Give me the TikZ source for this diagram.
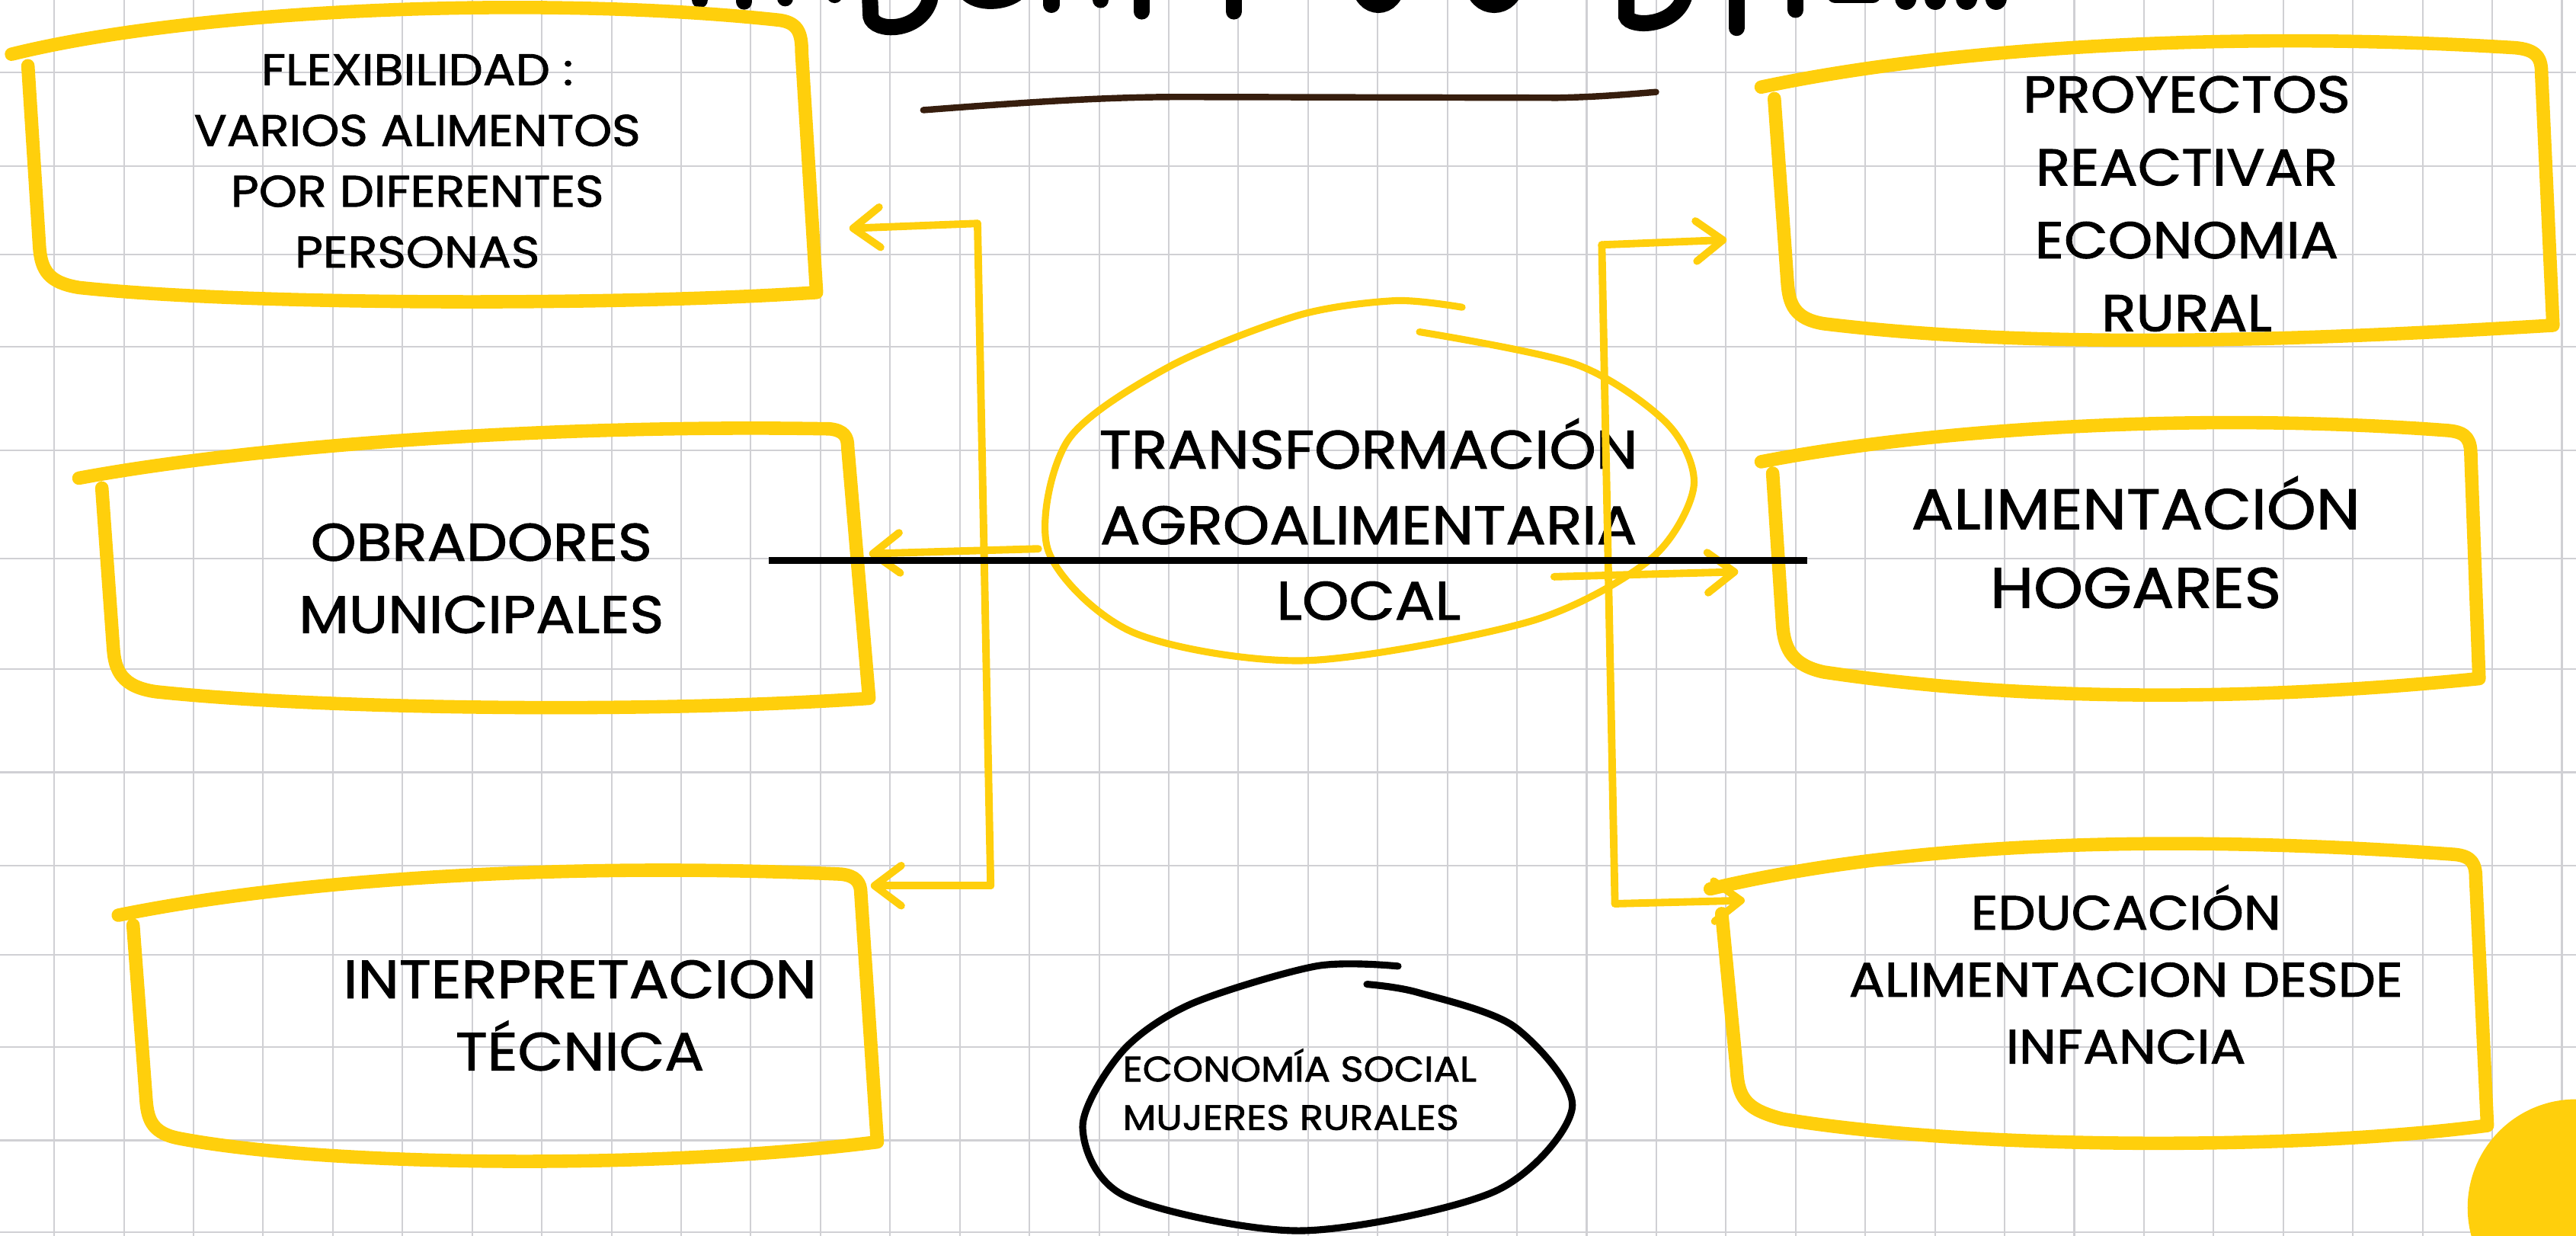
\documentclass[tikz,border=0pt]{standalone}
\usepackage{fontspec}
\setmainfont{Poppins}[FakeStretch=1.1,FakeBold=1.5]
\usetikzlibrary{arrows.meta}
\definecolor{amarillo}{RGB}{255,207,12}
\definecolor{cafe}{RGB}{55,30,14}
\definecolor{rejilla}{RGB}{208,208,212}
\begin{document}
\begin{tikzpicture}[x=0.02156cm,y=-0.02156cm,
  marco/.style={amarillo,line width=5pt,line cap=round,line join=round},
  flecha/.style={amarillo,line width=2.8pt,line cap=round,line join=round},
  punta/.style={flecha,-{Straight Barb[length=10pt,width=15pt,round]}},
  lazo/.style={line width=2.6pt,line cap=round,line join=round},
  trazo/.style={black,line width=6pt,line cap=round},
  rotulo/.style={align=center,inner sep=0pt}]
\useasboundingbox (0,0) rectangle (1568,752);
\fill[white] (0,0) rectangle (1568,752);
% hoja cuadriculada
\foreach \gx in {0,...,36}\draw[rejilla,line width=0.6pt] ({33+42.4*\gx},0)--++(0,752);
\foreach \gy in {44,101,155,211,274,340,407,470,527,581,637,694,750}\draw[rejilla,line width=0.6pt] (0,\gy)--(1568,\gy);
% titulo cortado por arriba
\foreach \tx/\ty in {426/5,453/6,478/4,508/2,640/8,670/5,695/12,751/12,1057/22,1093/11}\draw[trazo] (\tx,-12)--(\tx,\ty-5);
\draw[trazo] (529,-12)--(530,10) .. controls (532,20) and (560,20) .. (566,0);
\draw[trazo] (588,-5) .. controls (595,3) and (612,2) .. (620,-5);
\draw[trazo] (827,-12) .. controls (828,8) and (850,8) .. (851,-12);
\draw[trazo] (896,-12) .. controls (897,8) and (922,8) .. (923,-12);
\draw[trazo] (990,-12)--(990,10) .. controls (992,17) and (1022,17) .. (1026,-5);
\draw[trazo] (1117,-3)--(1140,-3);
\foreach \px in {1160,1178,1197,1215}\fill (\px,-1) ellipse (6.5 and 7);
\draw[cafe,line width=2.4pt,line cap=round] (562,67) .. controls (640,61) and (680,59) .. (720,59)--(948,59.5) .. controls (975,59) and (995,57) .. (1008,56);
% cajas
\draw[marco] (7,33) .. controls (120,5) and (330,-3) .. (472,12) .. controls (486,13) and (488,20) .. (488,32)--(497,178) .. controls (380,186) and (150,186) .. (48,175) .. controls (30,172) and (25,165) .. (24,150)--(17,40);
\draw[marco] (48,291) .. controls (150,272) and (330,258) .. (505,261) .. controls (514,262) and (516,266) .. (516,272)--(529,425) .. controls (400,434) and (200,432) .. (95,421) .. controls (74,418) and (70,408) .. (69,395)--(62,297);
\draw[marco] (72,557) .. controls (170,537) and (330,524) .. (512,532) .. controls (521,533) and (524,537) .. (524,544)--(534,695) .. controls (400,712) and (200,710) .. (110,693) .. controls (93,690) and (90,682) .. (89,670)--(81,563);
\draw[marco] (1072,53) .. controls (1180,30) and (1350,18) .. (1530,29) .. controls (1545,30) and (1547,36) .. (1547,45)--(1554,198) .. controls (1420,206) and (1250,214) .. (1110,197) .. controls (1092,194) and (1089,185) .. (1088,172)--(1080,60);
\draw[marco] (1072,281) .. controls (1170,262) and (1330,250) .. (1490,262) .. controls (1502,263) and (1504,268) .. (1504,278)--(1509,413) .. controls (1400,424) and (1250,430) .. (1110,409) .. controls (1092,405) and (1086,396) .. (1085,380)--(1079,288);
\draw[marco] (1041,541) .. controls (1150,515) and (1300,506) .. (1494,520) .. controls (1505,521) and (1507,526) .. (1507,535)--(1514,685) .. controls (1400,700) and (1200,700) .. (1085,681) .. controls (1062,675) and (1058,668) .. (1057,650)--(1048,556);
\fill[amarillo] (1568,735) circle (66);
% textos
\node[rotulo,font=\fontsize{16.5}{22.7}\selectfont] (flex) at (254,98) {FLEXIBILIDAD :\\VARIOS ALIMENTOS\\POR DIFERENTES\\PERSONAS};
\node[rotulo,font=\fontsize{19.7}{27}\selectfont] (obra) at (293,352) {OBRADORES\\MUNICIPALES};
\node[rotulo,font=\fontsize{20}{27}\selectfont] (interp) at (353,618) {INTERPRETACION\\TÉCNICA};
\node[rotulo,font=\fontsize{19.3}{27.2}\selectfont] (proy) at (1331,124) {PROYECTOS\\REACTIVAR\\ECONOMIA\\RURAL};
\node[rotulo,font=\fontsize{21.3}{29.4}\selectfont] (alim) at (1300,330) {ALIMENTACIÓN\\HOGARES};
\node[rotulo,font=\fontsize{18}{25}\selectfont] (edu) at (1294,593) {EDUCACIÓN\\ALIMENTACION DESDE\\INFANCIA};
\node[rotulo,font=\fontsize{20.2}{28.2}\selectfont] (core) at (833,316) {TRANSFORMACIÓN\\AGROALIMENTARIA\\LOCAL};
\node[rotulo,align=left,anchor=west,font=\fontsize{13.2}{18.1}\selectfont] (econ) at (683,663) {ECONOMÍA SOCIAL\\MUJERES RURALES};
% lazos
\draw[lazo,amarillo] plot[smooth] coordinates {(864,202) (960,222) (1015,258) (1031,296) (1005,340) (932,378) (795,402) (690,385) (638,335) (650,268) (712,223) (790,192) (849,183) (890,187)};
\draw[lazo] plot[smooth] coordinates {(851,588) (801,588) (725,611) (683,640) (659,686) (685,728) (792,749) (910,725) (957,674) (922,625) (863,604) (832,599)};
% flechas
\coordinate (lnorth) at (595,136); \coordinate (lsouth) at (603,539); \coordinate (lmid) at (632,334);
\coordinate (rnorth) at (975,149); \coordinate (rsouth) at (983,550); \coordinate (rmid) at (946,351);
\coordinate (tflex) at (517,139); \coordinate (tobra) at (529,337); \coordinate (tinterp) at (530,539);
\coordinate (tproy) at (1051,146); \coordinate (talim) at (1058,348); \coordinate (tedu) at (1062,548);
\draw[flecha] (lnorth)--(lsouth);
\draw[flecha] (rnorth)--(rsouth);
\draw[punta] (lnorth)--(tflex);
\draw[punta] (lmid)--(tobra);
\draw[punta] (lsouth)--(tinterp);
\draw[punta] (rnorth)--(tproy);
\draw[punta] (rmid)--(talim);
\draw[punta] (rsouth)--(tedu);
\draw[line width=2.7pt] (468,341)--(1100,341);
\end{tikzpicture}
\end{document}
